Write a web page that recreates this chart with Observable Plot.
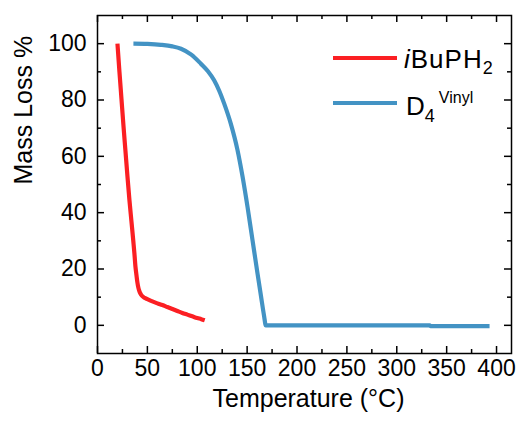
<!DOCTYPE html>
<html><head><meta charset="utf-8">
<script src="https://cdn.jsdelivr.net/npm/d3@7"></script>
<script src="https://cdn.jsdelivr.net/npm/@observablehq/plot@0.6"></script>
<style>
body{margin:0;background:#fff;}
#wrap{position:relative;width:520px;height:423px;}
#legend{position:absolute;left:0;top:0;pointer-events:none;}
text{font-family:"Liberation Sans",Arial,sans-serif;}
</style></head><body><div id="wrap"></div>
<script>
// iBuPH2 series
const ibuTemp = [20, 22, 24, 26, 28, 30, 32, 34, 36, 37, 38, 39, 40, 41, 42, 43, 44.5, 47, 50, 55, 60, 65, 70, 75, 80, 85, 90, 95, 100, 104, 107.5];
const ibuMass = [100, 90, 80.5, 71, 62, 53, 44.5, 37, 29.5, 25.5, 21, 18, 15.2, 13.3, 12.1, 11.3, 10.5, 9.8, 9.3, 8.5, 7.8, 7.2, 6.5, 5.8, 5.1, 4.4, 3.8, 3.2, 2.6, 2.2, 1.8];
// D4Vinyl series
const d4Temp = [36, 50, 63.5, 75, 83.7, 94, 103.6, 110.5, 116.9, 122, 127, 133.6, 140.3, 145.5, 150.4, 155.4, 160.4, 164, 167, 168.7, 200, 250, 300, 333, 334, 393];
const d4Mass = [100, 99.9, 99.6, 99.05, 98.2, 96.1, 92.9, 90.3, 87, 83.3, 78.7, 71.6, 62.3, 52.6, 42, 30.2, 18.4, 10.1, 3.3, 0, 0, 0, 0, 0, -0.3, -0.3];

const seriesNames = ["iBuPH2", "D4Vinyl"];
const seriesColors = ["#fb1f23", "#4393c4"];

const xMajor = [0, 50, 100, 150, 200, 250, 300, 350, 400];
const xMinor = [25, 75, 125, 175, 225, 275, 325, 375];
const yMajor = [0, 20, 40, 60, 80, 100];
const yMinor = [10, 30, 50, 70, 90];
const xDomain = [0, 415];
const yDomain = [-10, 110];
const xTitle = "Temperature (°C)";
const yTitle = "Mass Loss %";

const ibu = ibuTemp.map((t, i) => ({t, m: ibuMass[i]}));
const d4 = d4Temp.map((t, i) => ({t, m: d4Mass[i]}));

const W = 520, H = 423, mL = 97, mR = 9, mT = 15, mB = 70;
const PW = W - mL - mR, PH = H - mT - mB;
const majLen = 7, minLen = 4;

const chart = Plot.plot({
  width: W, height: H,
  marginLeft: mL, marginRight: mR, marginTop: mT, marginBottom: mB,
  style: {fontFamily: '"Liberation Sans", Arial, sans-serif', fontSize: "23px", color: "#000", background: "#fff"},
  x: {domain: xDomain},
  y: {domain: yDomain},
  marks: [
    Plot.axisX({ticks: xMajor, tickSize: 0, tickPadding: 6, fontSize: 23, label: null}),
    Plot.axisY({ticks: yMajor, tickSize: 0, tickPadding: 11, fontSize: 23, label: null}),
    Plot.ruleX(xMajor, {x: d => d, insetTop: PH - majLen, strokeWidth: 1.5, stroke: "#000"}),
    Plot.ruleX(xMajor, {x: d => d, insetBottom: PH - majLen, strokeWidth: 1.5, stroke: "#000"}),
    Plot.ruleX(xMinor, {x: d => d, insetTop: PH - minLen, strokeWidth: 1.5, stroke: "#000"}),
    Plot.ruleX(xMinor, {x: d => d, insetBottom: PH - minLen, strokeWidth: 1.5, stroke: "#000"}),
    Plot.ruleY(yMajor, {y: d => d, insetRight: PW - majLen, strokeWidth: 1.5, stroke: "#000"}),
    Plot.ruleY(yMajor, {y: d => d, insetLeft: PW - majLen, strokeWidth: 1.5, stroke: "#000"}),
    Plot.ruleY(yMinor, {y: d => d, insetRight: PW - minLen, strokeWidth: 1.5, stroke: "#000"}),
    Plot.ruleY(yMinor, {y: d => d, insetLeft: PW - minLen, strokeWidth: 1.5, stroke: "#000"}),
    Plot.line(ibu, {x: "t", y: "m", curve: "monotone-x", stroke: seriesColors[0], strokeWidth: 4.2, strokeLinejoin: "round", strokeLinecap: "butt"}),
    Plot.line(d4, {x: "t", y: "m", curve: "monotone-x", stroke: seriesColors[1], strokeWidth: 4.2, strokeLinejoin: "round", strokeLinecap: "butt"}),
    Plot.frame({stroke: "#000", strokeWidth: 1.5}),
    Plot.text([xTitle], {text: d => d, frameAnchor: "bottom", dy: 53, dx: 4, fontSize: 25, fill: "#000"}),
    Plot.text([yTitle], {text: d => d, frameAnchor: "left", rotate: -90, dx: -74, fontSize: 25, fill: "#000"})
  ]
});
const wrap = document.getElementById("wrap");
wrap.appendChild(chart);

// Legend overlay
const ns = "http://www.w3.org/2000/svg";
const leg = document.createElementNS(ns, "svg");
leg.setAttribute("id", "legend");
leg.setAttribute("width", W); leg.setAttribute("height", H);
leg.innerHTML = `
  <line x1="333" x2="397" y1="58" y2="58" stroke="${seriesColors[0]}" stroke-width="4"/>
  <text x="404" y="68" font-size="26" letter-spacing="1" fill="#000"><tspan font-style="italic">i</tspan>BuPH<tspan font-size="18" dy="6">2</tspan></text>
  <line x1="333" x2="397" y1="103" y2="103" stroke="${seriesColors[1]}" stroke-width="4"/>
  <text x="406" y="115" font-size="26" fill="#000">D<tspan font-size="18" dy="7">4</tspan><tspan font-size="16" dy="-19" dx="4">Vinyl</tspan></text>
`;
wrap.appendChild(leg);
</script>
</body></html>
